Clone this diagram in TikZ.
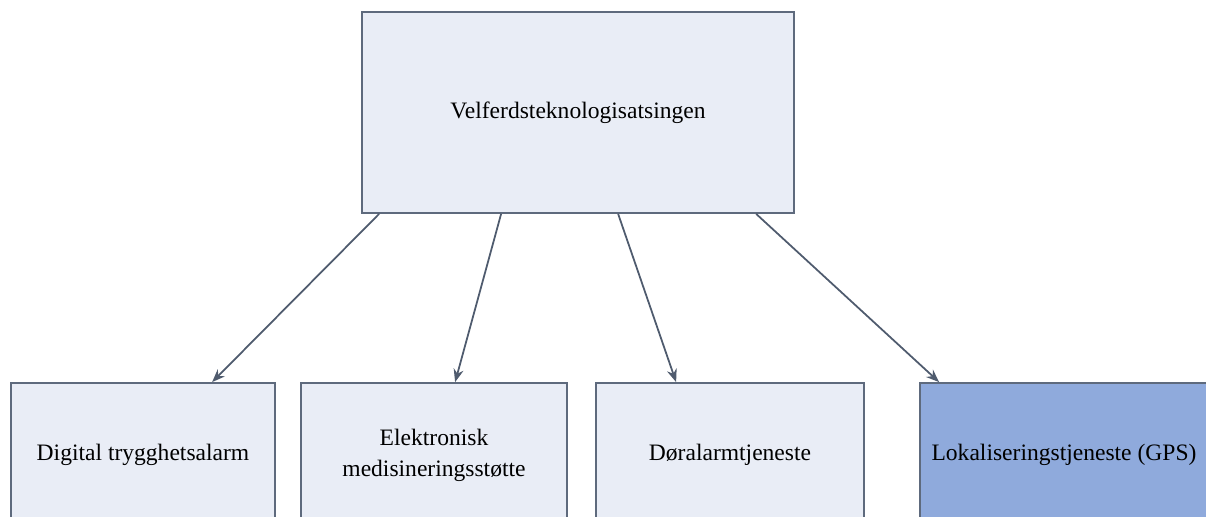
\documentclass[tikz,border=0pt]{standalone}
\usepackage{fontspec}
\setmainfont{Liberation Serif}
\usetikzlibrary{arrows.meta}
\definecolor{boxfill}{HTML}{E9EDF6}
\definecolor{boxline}{HTML}{5E6A7D}
\definecolor{gpsfill}{HTML}{8FAADC}
\definecolor{arrowline}{HTML}{4F5B6E}
\begin{document}
\begin{tikzpicture}[
    tiltak/.style={draw=boxline, fill=boxfill, line width=0.5pt,
      minimum height=1.44cm, inner sep=1pt, align=center,
      font=\fontsize{6.7}{8.8}\selectfont},
    pil/.style={draw=arrowline, line width=0.5pt,
      -{Stealth[length=1.3mm, width=1.0mm]}}]
    \useasboundingbox (0,0) rectangle (12.06,5.17);
    \fill[white] (0,0) rectangle (12.06,5.17);
    % hovedsatsing
    \node[tiltak, minimum width=4.32cm, minimum height=2.01cm] (satsing) at (5.78,4.045)
      {Velferdsteknologisatsingen};
    % tjenester
    \node[tiltak, minimum width=2.64cm] (trygghet) at (1.43,0.62)
      {Digital trygghetsalarm};
    \node[tiltak, minimum width=2.66cm] (medisin) at (4.34,0.62)
      {Elektronisk\\medisineringsstøtte};
    \node[tiltak, minimum width=2.68cm] (dor) at (7.30,0.62)
      {Døralarmtjeneste};
    \node[tiltak, fill=gpsfill, minimum width=2.88cm] (gps) at (10.64,0.62)
      {Lokaliseringstjeneste (GPS)};
    \draw[pil] ([xshift=0.18cm]satsing.south west) -- ([xshift=2.02cm]trygghet.north west);
    \draw[pil] ([xshift=1.40cm]satsing.south west) -- ([xshift=1.55cm]medisin.north west);
    \draw[pil] ([xshift=2.57cm]satsing.south west) -- ([xshift=0.81cm]dor.north west);
    \draw[pil] ([xshift=3.95cm]satsing.south west) -- ([xshift=0.20cm]gps.north west);
  \end{tikzpicture}
\end{document}
